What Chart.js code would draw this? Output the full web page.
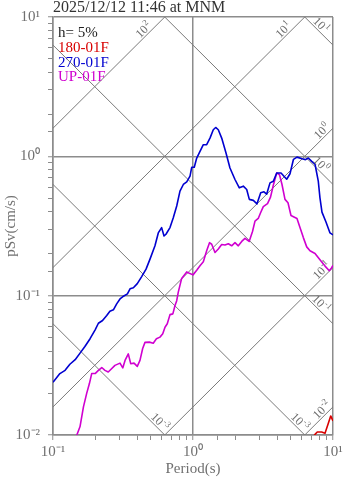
<!DOCTYPE html>
<html>
<head>
<meta charset="utf-8">
<script src="https://cdn.jsdelivr.net/npm/chart.js@4.4.1/dist/chart.umd.min.js"></script>
<style>
  html, body { margin: 0; padding: 0; background: #ffffff; }
  #wrap { width: 347px; height: 478px; }
</style>
</head>
<body>
<div id="wrap"><canvas id="spec" width="347" height="478"></canvas></div>
<script>
// ---- chart text ----
const chartTitle = '2025/12/12 11:46 at MNM';
const dampingText = 'h= 5%';
const seriesNames = ['180-01F', '270-01F', 'UP-01F'];
const seriesColors = ['#d80000', '#0000d0', '#d000d0'];

// ---- pseudo velocity response spectra, period (s) vs pSv (cm/s) ----
const period180 = [6.85, 7.44, 7.72, 8.30, 8.77, 9.25, 9.63, 10.0];
const sv180 = [0.0091, 0.0101, 0.0105, 0.0105, 0.0103, 0.0121, 0.0137, 0.0126];

const period270 = [0.100, 0.112, 0.122, 0.132, 0.144, 0.156, 0.169, 0.184, 0.200, 0.211,
  0.226, 0.242, 0.255, 0.270, 0.285, 0.301, 0.321, 0.340, 0.355, 0.375,
  0.400, 0.430, 0.462, 0.493, 0.535, 0.565, 0.597, 0.621, 0.641, 0.685,
  0.723, 0.765, 0.807, 0.853, 0.902, 0.952, 0.979, 1.021, 1.063, 1.122,
  1.185, 1.252, 1.322, 1.396, 1.452, 1.516, 1.603, 1.721, 1.837, 1.995,
  2.142, 2.287, 2.419, 2.525, 2.697, 2.865, 3.045, 3.214, 3.358, 3.548,
  3.747, 3.963, 4.253, 4.670, 4.93, 5.22, 5.53, 6.01, 6.36, 6.66,
  7.05, 7.44, 7.85, 8.07, 8.34, 8.91, 9.52, 10.0];
const sv270 = [0.0239, 0.0276, 0.0291, 0.0322, 0.0347, 0.0387, 0.0432, 0.0491, 0.0569, 0.0634,
  0.0663, 0.0720, 0.0773, 0.0791, 0.0873, 0.0947, 0.0995, 0.103, 0.112, 0.114,
  0.122, 0.137, 0.155, 0.183, 0.228, 0.282, 0.308, 0.268, 0.276, 0.308,
  0.362, 0.440, 0.562, 0.628, 0.655, 0.720, 0.834, 0.834, 0.972, 1.086,
  1.212, 1.212, 1.352, 1.552, 1.611, 1.552, 1.352, 1.056, 0.825, 0.682,
  0.594, 0.611, 0.578, 0.491, 0.483, 0.456, 0.547, 0.556, 0.535, 0.645,
  0.663, 0.760, 0.760, 0.685, 0.750, 0.952, 0.987, 0.960, 0.947, 0.973,
  0.921, 0.877, 0.663, 0.504, 0.398, 0.338, 0.282, 0.273];

const periodUP = [0.144, 0.148, 0.156, 0.165, 0.174, 0.182, 0.189, 0.200, 0.211, 0.223,
  0.235, 0.248, 0.262, 0.277, 0.301, 0.315, 0.327, 0.345, 0.359, 0.379,
  0.400, 0.418, 0.437, 0.454, 0.488, 0.520, 0.548, 0.581, 0.608, 0.631,
  0.655, 0.685, 0.718, 0.744, 0.765, 0.785, 0.830, 0.902, 0.952, 1.000,
  1.063, 1.122, 1.185, 1.252, 1.312, 1.360, 1.436, 1.516, 1.603, 1.693,
  1.787, 1.889, 1.995, 2.107, 2.228, 2.351, 2.519, 2.661, 2.772, 2.924,
  3.034, 3.178, 3.406, 3.578, 3.758, 3.963, 4.148, 4.322, 4.54, 4.77,
  5.01, 5.53, 5.81, 6.14, 6.49, 6.85, 7.44, 8.07, 8.77, 9.41,
  9.75, 10.0];
const svUP = [0.0085, 0.0100, 0.0115, 0.0159, 0.0199, 0.0234, 0.0276, 0.0276, 0.0291, 0.0305,
  0.0291, 0.0283, 0.0299, 0.0316, 0.0328, 0.0303, 0.0343, 0.0382, 0.0325, 0.0328,
  0.0311, 0.0343, 0.0418, 0.0462, 0.0464, 0.0456, 0.0491, 0.0504, 0.0532, 0.0594,
  0.0628, 0.0731, 0.0740, 0.0849, 0.0921, 0.106, 0.133, 0.148, 0.144, 0.141,
  0.152, 0.164, 0.175, 0.210, 0.240, 0.234, 0.204, 0.216, 0.233, 0.231,
  0.236, 0.228, 0.240, 0.228, 0.245, 0.258, 0.245, 0.289, 0.343, 0.358,
  0.392, 0.436, 0.458, 0.510, 0.628, 0.760, 0.738, 0.628, 0.491, 0.464,
  0.376, 0.358, 0.308, 0.261, 0.224, 0.210, 0.201, 0.181, 0.163, 0.151,
  0.158, 0.165];

// ---- axes ----
const periodRange = [0.1, 10];
const svRange = [0.01, 10];
const xTickLabels = { '0.1': '10⁻¹', '1': '10⁰', '10': '10¹' };
const yTickLabels = { '0.01': '10⁻²', '0.1': '10⁻¹', '1': '10⁰', '10': '10¹' };

// ---- tripartite guide lines: constant pSa (rising) and constant Sd (falling) ----
const accelExponents = [2, 1, 0, -1, -2];
const accelLabels = ['2', '1', '0', '-1', '-2'];
const dispExponents = [1, 0, -1, -2, -3];
const dispLabels = ['1', '0', '-1', '-3', '-3'];

const SERIF = "'Liberation Serif', 'Times New Roman', serif";
const AXIS_GREY = '#8c8c8c';
const GUIDE_GREY = '#7a7a7a';
const TWO_PI = 2 * Math.PI;

const pairs = (xs, ys) => xs.map((x, i) => ({ x: x, y: ys[i] }));
const isDecade = v => Math.abs(Math.log10(v) - Math.round(Math.log10(v))) < 1e-6;
const labelFor = (map, v) => {
  for (const k in map) if (Math.abs(parseFloat(k) - v) < 1e-9 * Math.max(1, v)) return map[k];
  return '';
};

function guideDataset(points) {
  return {
    data: points, borderColor: GUIDE_GREY, borderWidth: 1, pointRadius: 0,
    fill: false, tension: 0, order: 2, clip: 0
  };
}

const guideSets = [];
accelExponents.forEach(k => {
  const a = Math.pow(10, k);
  guideSets.push(guideDataset(periodRange.map(T => ({ x: T, y: a * T / TWO_PI }))));
});
dispExponents.forEach(k => {
  const d = Math.pow(10, k);
  guideSets.push(guideDataset(periodRange.map(T => ({ x: T, y: TWO_PI * d / T }))));
});

function curve(label, xs, ys, color) {
  return {
    label: label, data: pairs(xs, ys), borderColor: color, borderWidth: 1.6,
    pointRadius: 0, fill: false, tension: 0, order: 0, clip: 0
  };
}

// "10" with a raised exponent, centred on the current origin
function drawPower(ctx, exp, size, color) {
  const supSize = size * 0.72;
  ctx.font = size + 'px ' + SERIF;
  const wb = ctx.measureText('10').width;
  ctx.font = supSize + 'px ' + SERIF;
  const ws = ctx.measureText(exp).width;
  const w = wb + ws + 0.5;
  ctx.fillStyle = color;
  ctx.textAlign = 'left';
  ctx.textBaseline = 'alphabetic';
  ctx.font = size + 'px ' + SERIF;
  ctx.fillText('10', -w / 2, size * 0.33);
  ctx.font = supSize + 'px ' + SERIF;
  ctx.fillText(exp, -w / 2 + wb + 0.5, size * 0.33 - size * 0.42);
}

const decorations = {
  id: 'decorations',
  afterDatasetsDraw(chart) {
    const ctx = chart.ctx;
    const xs = chart.scales.x, ys = chart.scales.y;
    const off = 6 * Math.SQRT1_2;
    ctx.save();
    // labels on the constant-acceleration lines
    accelExponents.forEach((k, i) => {
      const a = Math.pow(10, k);
      let T = xs.max, sv = a * T / TWO_PI, top = false;
      if (sv > ys.max) { sv = ys.max; T = TWO_PI * sv / a; top = true; }
      const px = xs.getPixelForValue(T), py = ys.getPixelForValue(sv);
      const b = top ? 17 : 7;
      ctx.save();
      ctx.translate(px - b - off, py + b - off);
      ctx.rotate(-Math.PI / 4);
      drawPower(ctx, accelLabels[i], 12, '#6e6e6e');
      ctx.restore();
    });
    // labels on the constant-displacement lines
    dispExponents.forEach((k, i) => {
      const d = Math.pow(10, k);
      let T = xs.max, sv = TWO_PI * d / T, bottom = false;
      if (sv < ys.min) { sv = ys.min; T = TWO_PI * d / sv; bottom = true; }
      const px = xs.getPixelForValue(T), py = ys.getPixelForValue(sv);
      const b = bottom ? 9 : 16;
      ctx.save();
      ctx.translate(px - b + off, py - b - off);
      ctx.rotate(Math.PI / 4);
      drawPower(ctx, dispLabels[i], 12, '#6e6e6e');
      ctx.restore();
    });
    ctx.restore();
  },
  afterDraw(chart) {
    const ctx = chart.ctx, area = chart.chartArea;
    ctx.save();
    ctx.textAlign = 'left';
    ctx.textBaseline = 'alphabetic';
    ctx.font = '16px ' + SERIF;
    ctx.fillStyle = '#333333';
    ctx.fillText(chartTitle, area.left, 12);
    ctx.font = '15px ' + SERIF;
    ctx.fillStyle = '#222222';
    ctx.fillText(dampingText, area.left + 5, area.top + 20);
    seriesNames.forEach((name, i) => {
      ctx.fillStyle = seriesColors[i];
      ctx.fillText(name, area.left + 5, area.top + 35 + 14.7 * i);
    });
    ctx.restore();
  }
};

const gridOpts = {
  color: c => (c.tick && isDecade(c.tick.value)) ? AXIS_GREY : 'rgba(0,0,0,0)',
  lineWidth: c => (c.tick && isDecade(c.tick.value)) ? 1.5 : 1,
  tickColor: AXIS_GREY,
  tickWidth: 1,
  tickLength: 5,
  drawTicks: true
};

new Chart(document.getElementById('spec'), {
  type: 'line',
  data: {
    datasets: [
      curve(seriesNames[0], period180, sv180, seriesColors[0]),
      curve(seriesNames[1], period270, sv270, seriesColors[1]),
      curve(seriesNames[2], periodUP, svUP, seriesColors[2])
    ].concat(guideSets)
  },
  options: {
    responsive: false,
    animation: false,
    devicePixelRatio: 1,
    layout: { padding: { top: 15, right: 14, left: 0, bottom: 0 } },
    plugins: { legend: { display: false }, tooltip: { enabled: false }, title: { display: false } },
    elements: { line: { borderJoinStyle: 'round' } },
    scales: {
      x: {
        type: 'logarithmic',
        min: periodRange[0], max: periodRange[1],
        grid: gridOpts,
        border: { display: true, color: AXIS_GREY, width: 1.5 },
        ticks: {
          autoSkip: false, maxRotation: 0, padding: 3, color: '#707070',
          font: { family: SERIF, size: 15 },
          callback: v => labelFor(xTickLabels, v)
        },
        title: {
          display: true, text: 'Period(s)', color: '#707070',
          font: { family: SERIF, size: 15 }, padding: { top: 0, bottom: 0 }
        },
        afterFit: s => { s.height = 43; }
      },
      y: {
        type: 'logarithmic',
        min: svRange[0], max: svRange[1],
        grid: gridOpts,
        border: { display: true, color: AXIS_GREY, width: 1.5 },
        ticks: {
          autoSkip: false, padding: 8, color: '#707070',
          font: { family: SERIF, size: 15 },
          callback: v => labelFor(yTickLabels, v)
        },
        title: {
          display: true, text: 'pSv(cm/s)', color: '#707070',
          font: { family: SERIF, size: 15 }, padding: { top: 2, bottom: 0 }
        },
        afterFit: s => { s.width = 53; }
      }
    }
  },
  plugins: [decorations]
});
</script>
</body>
</html>
